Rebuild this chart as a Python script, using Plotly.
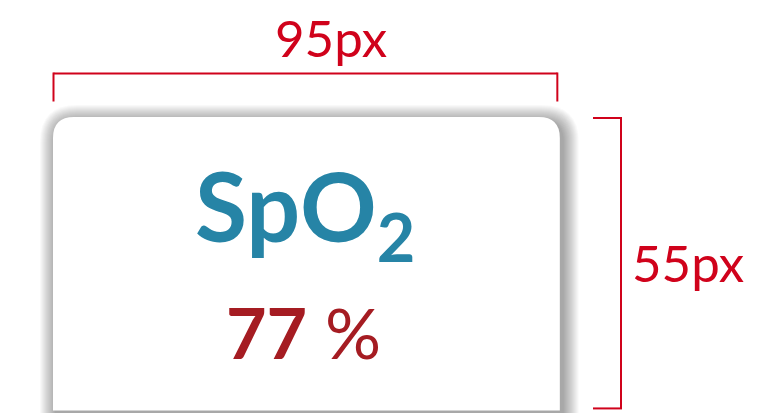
import plotly.graph_objects as go

# ---- data ----
card_width_px = 95
card_height_px = 55
width_label = f"{card_width_px}px"
height_label = f"{card_height_px}px"
metric_name = "SpO"
metric_sub = "2"
metric_value = 77
metric_unit = "%"

# ---- styling / geometry ----
W, H = 759, 413
PAGE_OFFSET = 8          # browser default body margin
scale = 5.335            # screen pixels per spec pixel
cx0, cy0 = 53, 117       # card top-left
cx1 = cx0 + card_width_px * scale
cy1 = cy0 + card_height_px * scale
radius = 21

RED = "#D0021B"
TEAL = "#2684A6"
DARKRED = "#A51C22"


def rounded_top(x0, y0, x1, y1, r):
    return (f"M {x0},{y1} L {x0},{y0 + r} Q {x0},{y0} {x0 + r},{y0} "
            f"L {x1 - r},{y0} Q {x1},{y0} {x1},{y0 + r} L {x1},{y1} Z")


shapes = []
# soft drop shadow
for k in range(1, 17):
    dx, dy = 3, 4
    shapes.append(dict(
        type="path", xref="x", yref="y",
        path=rounded_top(cx0 - k + dx, cy0 - k + dy, cx1 + k + dx, cy1 + k + dy, radius + k),
        fillcolor="rgba(0,0,0,0.022)", line=dict(width=0), layer="below"))
# card
shapes.append(dict(type="path", xref="x", yref="y",
                   path=rounded_top(cx0, cy0, cx1, cy1, radius),
                   fillcolor="white", line=dict(width=0), layer="below"))

# width bracket
by = 73.5
shapes += [
    dict(type="line", xref="x", yref="y", x0=cx0 + 0.5, x1=cx1 - 2.5, y0=by, y1=by,
         line=dict(color=RED, width=2)),
    dict(type="line", xref="x", yref="y", x0=cx0 + 0.5, x1=cx0 + 0.5, y0=by - 1, y1=101.5,
         line=dict(color=RED, width=2)),
    dict(type="line", xref="x", yref="y", x0=cx1 - 2.5, x1=cx1 - 2.5, y0=by - 1, y1=101.5,
         line=dict(color=RED, width=2)),
]
# height bracket
bx = 621
shapes += [
    dict(type="line", xref="x", yref="y", x0=bx, x1=bx, y0=cy0 + 1, y1=cy1 - 2,
         line=dict(color=RED, width=2)),
    dict(type="line", xref="x", yref="y", x0=593, x1=bx + 1, y0=cy0 + 1, y1=cy0 + 1,
         line=dict(color=RED, width=2)),
    dict(type="line", xref="x", yref="y", x0=593, x1=bx + 1, y0=cy1 - 2, y1=cy1 - 2,
         line=dict(color=RED, width=2)),
]

annotations = [
    dict(x=331, y=37, xref="x", yref="y", text=width_label, showarrow=False,
         font=dict(family="Lato", size=51, color=RED), xanchor="center", yanchor="middle"),
    dict(x=630, y=262, xref="x", yref="y", text=height_label, showarrow=False,
         font=dict(family="Lato", size=51, color=RED), xanchor="left", yanchor="middle"),
    dict(x=(cx0 + cx1) / 2 - 1, y=212, xref="x", yref="y",
         text=f"{metric_name}<sub>{metric_sub}</sub>", showarrow=False,
         font=dict(family="Lato", size=95, color=TEAL, weight=700),
         xanchor="center", yanchor="middle"),
    dict(x=(cx0 + cx1) / 2 - 3, y=332, xref="x", yref="y",
         text=f"<b>{metric_value}</b> {metric_unit}", showarrow=False,
         font=dict(family="Lato", size=70, color=DARKRED),
         xanchor="center", yanchor="middle"),
]

fig = go.Figure()
fig.update_layout(
    width=W, height=H, margin=dict(l=0, r=0, t=0, b=0),
    paper_bgcolor="white", plot_bgcolor="white",
    xaxis=dict(range=[PAGE_OFFSET, W + PAGE_OFFSET], visible=False, fixedrange=True),
    yaxis=dict(range=[H + PAGE_OFFSET, PAGE_OFFSET], visible=False, fixedrange=True),
    shapes=shapes, annotations=annotations, showlegend=False,
)
fig.write_html("out.html")
